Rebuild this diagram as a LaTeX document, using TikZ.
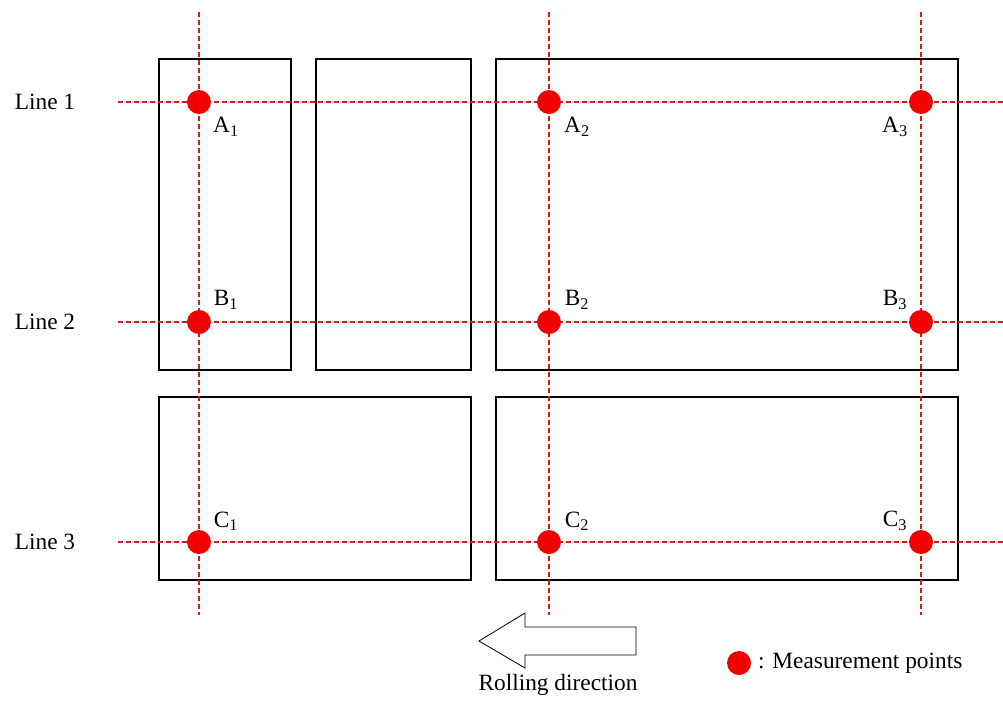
\documentclass[tikz,border=0pt]{standalone}
\usepackage{fontspec}
\setmainfont{Liberation Serif}
\usetikzlibrary{positioning}
\definecolor{dotred}{RGB}{240,0,0}
\definecolor{gridred}{RGB}{215,25,25}
\tikzset{grid/.style={gridred, line width=1.7pt, dash pattern=on 3.8pt off 2.2pt},
         plate/.style={draw, line width=1.9pt},
         pt/.style={circle, fill=dotred, minimum size=18pt, inner sep=0pt},
         lab/.style={font=\fontsize{17.5}{20}\selectfont, inner sep=1pt}
}

\begin{document}
\begin{tikzpicture}[x=0.75pt,y=-0.75pt]
    \useasboundingbox (0,0) rectangle (1003,701);
    % plates
    \draw[plate] (159,59) rectangle (291,370);
    \draw[plate] (316,59) rectangle (471,370);
    \draw[plate] (496,59) rectangle (958,370);
    \draw[plate] (159,397) rectangle (471,580);
    \draw[plate] (496,397) rectangle (958,580);

    % grid lines
    \coordinate (v1t) at (199,12);  \coordinate (v1b) at (199,615);
    \coordinate (v2t) at (549,12);  \coordinate (v2b) at (549,615);
    \coordinate (v3t) at (921,12);  \coordinate (v3b) at (921,615);
    \coordinate (h1l) at (118,102); \coordinate (h1r) at (1003,102);
    \coordinate (h2l) at (118,322); \coordinate (h2r) at (1003,322);
    \coordinate (h3l) at (118,542); \coordinate (h3r) at (1003,542);
    \draw[grid] (v1t) -- (v1b);
    \draw[grid] (v2t) -- (v2b);
    \draw[grid] (v3t) -- (v3b);
    \draw[grid] (h1l) -- (h1r);
    \draw[grid] (h2l) -- (h2r);
    \draw[grid] (h3l) -- (h3r);

    \node[lab] (L1) at (45,102) {Line 1};
    \node[lab] (L2) at (45,322) {Line 2};
    \node[lab] (L3) at (45,542) {Line 3};

    % measurement points
    \node[pt] (A1) at (199,102) {};
    \node[pt] (A2) at (549,102) {};
    \node[pt] (A3) at (921,102) {};
    \node[pt] (B1) at (199,322) {};
    \node[pt] (B2) at (549,322) {};
    \node[pt] (B3) at (921,322) {};
    \node[pt] (C1) at (199,542) {};
    \node[pt] (C2) at (549,542) {};
    \node[pt] (C3) at (921,542) {};

    \node[lab] (a1) at (226,127) {A\textsubscript{1}};
    \node[lab] (a2) at (577,127) {A\textsubscript{2}};
    \node[lab] (a3) at (895,127) {A\textsubscript{3}};
    \node[lab] (b1) at (226,300) {B\textsubscript{1}};
    \node[lab] (b2) at (577,300) {B\textsubscript{2}};
    \node[lab] (b3) at (895,300) {B\textsubscript{3}};
    \node[lab] (c1) at (226,521) {C\textsubscript{1}};
    \node[lab] (c2) at (577,521) {C\textsubscript{2}};
    \node[lab] (c3) at (895,521) {C\textsubscript{3}};

    % rolling direction
    \draw[line width=0.6pt, fill=white] (636,627) -- (525,627) -- (525,613) -- (479,641)
        -- (525,668) -- (525,655) -- (636,655) -- cycle;
    \node[lab] (roll) at (558,685) {Rolling direction};

    % legend
    \node[pt] (key) at (739,663) {};
    \node[lab, right=4pt of key] (keytxt) {: Measurement points};
\end{tikzpicture}
\end{document}
